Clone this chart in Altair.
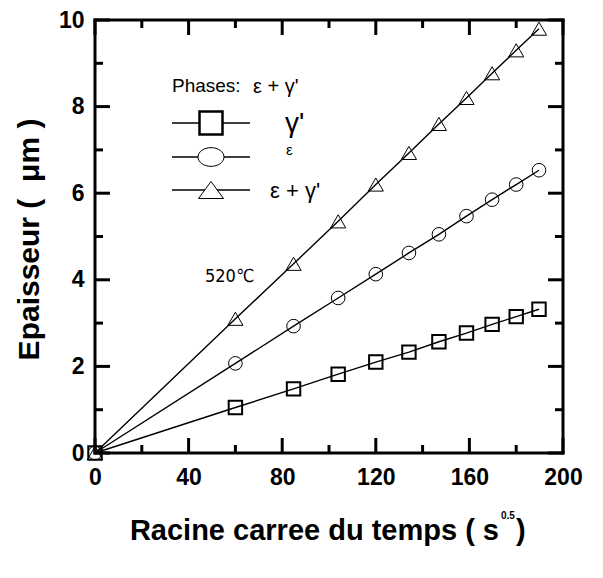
import altair as alt
import pandas as pd

# ---- data ----
x_vals = [0, 60, 84.85, 103.92, 120, 134.16, 146.97, 158.75, 169.71, 180, 189.74]
gamma_prime = [0, 1.05, 1.48, 1.82, 2.10, 2.33, 2.57, 2.77, 2.97, 3.15, 3.32]
epsilon = [0, 2.07, 2.93, 3.58, 4.13, 4.62, 5.05, 5.47, 5.85, 6.20, 6.53]
eps_gamma = [0, 3.10, 4.37, 5.35, 6.20, 6.93, 7.60, 8.20, 8.77, 9.30, 9.80]

x_major = [0, 40, 80, 120, 160, 200]
x_minor = [20, 60, 100, 140, 180]
y_major = [0, 2, 4, 6, 8, 10]
y_minor = [1, 3, 5, 7, 9]

W, H = 468, 433
SANS = "Liberation Sans"
X0, X1, Y0, Y1 = 0, 200, 0, 10
xs = alt.Scale(domain=[X0, X1], nice=False, zero=False)
ys = alt.Scale(domain=[Y0, Y1], nice=False, zero=False)

layers = []

axis_df = pd.DataFrame({"x": [X0, X1], "y": [Y0, Y1]})
layers.append(alt.Chart(axis_df).mark_point(opacity=0).encode(
    x=alt.X("x:Q", scale=xs, axis=alt.Axis(values=x_major, title=None, ticks=False, domain=False,
                                           grid=False, labelFont=SANS, labelFontWeight="bold",
                                           labelFontSize=23, labelColor="black", labelPadding=13,
                                           labelFlush=False, labelOverlap=False)),
    y=alt.Y("y:Q", scale=ys, axis=alt.Axis(values=y_major, title=None, ticks=False, domain=False,
                                           grid=False, labelFont=SANS, labelFontWeight="bold",
                                           labelFontSize=23, labelColor="black", labelPadding=11,
                                           labelFlush=False, labelOverlap=False)),
))

specs = [
    (gamma_prime, "square", 180, 2.0),
    (epsilon, "circle", 185, 1.0),
    (eps_gamma, "triangle-up", 230, 1.0),
]
for yv, shape, size, sw in specs:
    df = pd.DataFrame({"x": x_vals, "y": yv})
    layers.append(alt.Chart(df).mark_line(color="black", strokeWidth=1.4).encode(
        x=alt.X("x:Q", scale=xs), y=alt.Y("y:Q", scale=ys)))
    layers.append(alt.Chart(df).mark_point(shape=shape, size=size, filled=False, color="black",
                                           strokeWidth=sw, opacity=1).encode(
        x=alt.X("x:Q", scale=xs), y=alt.Y("y:Q", scale=ys)))

# frame drawn as four rules (instead of the view stroke)
frame = pd.DataFrame({
    "xa": [X0, X0, X0, X1], "xb": [X1, X1, X0, X1],
    "ya": [Y0, Y1, Y0, Y0], "yb": [Y0, Y1, Y1, Y1],
})
layers.append(alt.Chart(frame).mark_rule(color="black", strokeWidth=3, strokeCap="square").encode(
    x=alt.X("xa:Q", scale=xs), x2="xb:Q", y=alt.Y("ya:Q", scale=ys), y2="yb:Q"))

# inward ticks on all four sides (pixel lengths converted to data units)
MAJ, MIN, TH = 15, 8, 3
px_x = (X1 - X0) / W
px_y = (Y1 - Y0) / H
tick_rows = []
for vals, L in ((x_major, MAJ), (x_minor, MIN)):
    for v in vals:
        tick_rows.append({"xa": v, "xb": v, "ya": Y0, "yb": Y0 + L * px_y})
        tick_rows.append({"xa": v, "xb": v, "ya": Y1, "yb": Y1 - L * px_y})
for vals, L in ((y_major, MAJ), (y_minor, MIN)):
    for v in vals:
        tick_rows.append({"xa": X0, "xb": X0 + L * px_x, "ya": v, "yb": v})
        tick_rows.append({"xa": X1, "xb": X1 - L * px_x, "ya": v, "yb": v})
layers.append(alt.Chart(pd.DataFrame(tick_rows)).mark_rule(color="black", strokeWidth=TH).encode(
    x=alt.X("xa:Q", scale=xs), x2="xb:Q", y=alt.Y("ya:Q", scale=ys), y2="yb:Q"))

one = pd.DataFrame({"a": [0]})

def txt(s, x, y, size, font=SANS, weight="normal", align="left", baseline="alphabetic", angle=0):
    kw = dict(text=s, font=font, fontSize=size, fontWeight=weight, align=align,
              baseline=baseline, color="black")
    if angle:
        kw["angle"] = angle
    return alt.Chart(one).mark_text(**kw).encode(x=alt.value(x), y=alt.value(y))

# legend
ellipse = "M-1,0A1,0.72,0,1,1,1,0A1,0.72,0,1,1,-1,0Z"
tri = "M0,-0.68L1,0.68L-1,0.68Z"
rows = [(103, "square", 529, 2.5), (137, ellipse, 676, 1.0), (170, tri, 625, 1.0)]
for ypix, shp, sz, sw in rows:
    layers.append(alt.Chart(one).mark_rule(color="black", strokeWidth=1.5).encode(
        x=alt.value(77), x2=alt.value(155), y=alt.value(ypix)))
    layers.append(alt.Chart(one).mark_point(shape=shp, size=sz, filled=True, fill="white",
                                            stroke="black", strokeWidth=sw, opacity=1).encode(
        x=alt.value(116), y=alt.value(ypix)))

layers += [
    txt("Phases:", 77, 72, 19),
    txt("ε + γ'", 158, 73, 20),
    txt("γ'", 190, 112, 28),
    txt("ε", 191, 135, 15),
    txt("ε + γ'", 175, 178, 22),
    txt("520℃", 110, 262, 18, font="DejaVu Sans Condensed, Liberation Sans"),
    txt("Racine carree du temps ( s", 404, 520, 29, weight="bold", align="right"),
    txt("0.5", 406, 499, 10, weight="bold"),
    txt(")", 421, 520, 29, weight="bold"),
    txt("Epaisseur (\u00a0\u00a0μm\u00a0)", -65, H / 2 + 3, 30, weight="bold", align="center",
        baseline="middle", angle=270),
]

chart = alt.layer(*layers).properties(
    width=W, height=H,
    autosize=alt.AutoSizeParams(type="none"),
    padding={"left": 95, "top": 20, "right": 40, "bottom": 125},
    background="white",
).configure_view(strokeWidth=0)

chart.save("out.html", embed_options={"renderer": "svg", "actions": False})
